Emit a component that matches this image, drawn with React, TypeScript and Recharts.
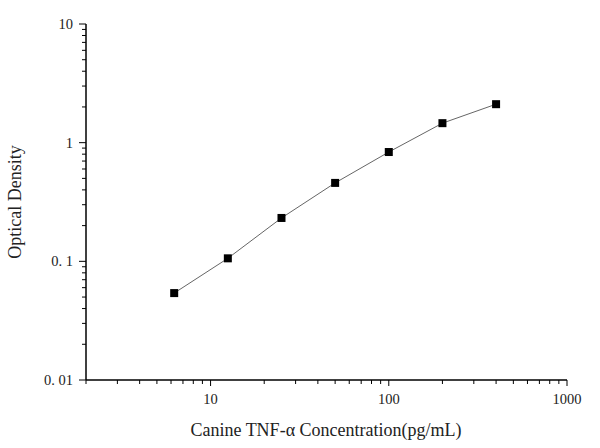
import React from "react";
import { ScatterChart, Scatter, XAxis, YAxis } from "recharts";

const concentrations = [6.25, 12.5, 25, 50, 100, 200, 400];
const densities = [0.054, 0.106, 0.232, 0.458, 0.834, 1.46, 2.11];

const xMajorTicks = [10, 100, 1000];
const xTicks = [2, 3, 4, 5, 6, 7, 8, 9, 10, 20, 30, 40, 50, 60, 70, 80, 90, 100, 200, 300, 400, 500, 600, 700, 800, 900, 1000];
const yMajorTicks = [0.01, 0.1, 1, 10];
const yTicks = [0.01, 0.02, 0.03, 0.04, 0.05, 0.06, 0.07, 0.08, 0.09, 0.1, 0.2, 0.3, 0.4, 0.5, 0.6, 0.7, 0.8, 0.9, 1, 2, 3, 4, 5, 6, 7, 8, 9, 10];
const yTickLabels: Record<number, string> = { 0.01: "0. 01", 0.1: "0. 1", 1: "1", 10: "10" };

const data = concentrations.map((c, i) => ({ x: c, y: densities[i] }));

const FONT = "'Liberation Serif', 'Times New Roman', serif";

const XTick = ({ x, y, payload }: any) => {
  const major = xMajorTicks.includes(payload.value);
  return (
    <g>
      <line x1={x} y1={y} x2={x} y2={y + (major ? 6 : 4)} stroke="#000" strokeWidth={1} />
      {major && (
        <text x={x} y={y + 24} textAnchor="middle" fontSize={14.5} fontFamily={FONT} fill="#222">
          {payload.value}
        </text>
      )}
    </g>
  );
};

const YTick = ({ x, y, payload }: any) => {
  const major = yMajorTicks.includes(payload.value);
  return (
    <g>
      <line x1={x} y1={y} x2={x - (major ? 7 : 4)} y2={y} stroke="#000" strokeWidth={1} />
      {major && (
        <text x={x - 13} y={y + 5} textAnchor="end" fontSize={14.5} fontFamily={FONT} fill="#222">
          {yTickLabels[payload.value]}
        </text>
      )}
    </g>
  );
};

const SquareDot = ({ cx, cy }: any) => (
  <rect x={cx - 4} y={cy - 4} width={8} height={8} fill="#000" />
);

export default function App() {
  return (
    <div style={{ position: "absolute", left: 0, top: 0, width: 600, height: 448, background: "#fff" }}>
      <ScatterChart width={600} height={448} margin={{ top: 24, right: 33, bottom: 0, left: 6 }}>
        <XAxis
          type="number"
          dataKey="x"
          scale="log"
          domain={[2, 1000]}
          ticks={xTicks}
          interval={0}
          tick={<XTick />}
          tickLine={false}
          tickSize={0}
          tickMargin={0}
          height={68}
          axisLine={{ stroke: "#000", strokeWidth: 1.5 }}
          allowDataOverflow
        />
        <YAxis
          type="number"
          dataKey="y"
          scale="log"
          domain={[0.01, 10]}
          ticks={yTicks}
          interval={0}
          tick={<YTick />}
          tickLine={false}
          tickSize={0}
          tickMargin={0}
          width={80}
          axisLine={{ stroke: "#000", strokeWidth: 1.5 }}
          allowDataOverflow
        />
        <Scatter
          data={data}
          line={{ stroke: "#666", strokeWidth: 1 }}
          lineType="joint"
          shape={<SquareDot />}
          isAnimationActive={false}
        />
        <text x={326} y={436} textAnchor="middle" fontSize={18} fontFamily={FONT} fill="#222">
          Canine TNF-α Concentration(pg/mL)
        </text>
        <text
          x={21}
          y={202}
          textAnchor="middle"
          fontSize={18}
          fontFamily={FONT}
          fill="#222"
          transform="rotate(-90 21 202)"
        >
          Optical Density
        </text>
      </ScatterChart>
    </div>
  );
}
